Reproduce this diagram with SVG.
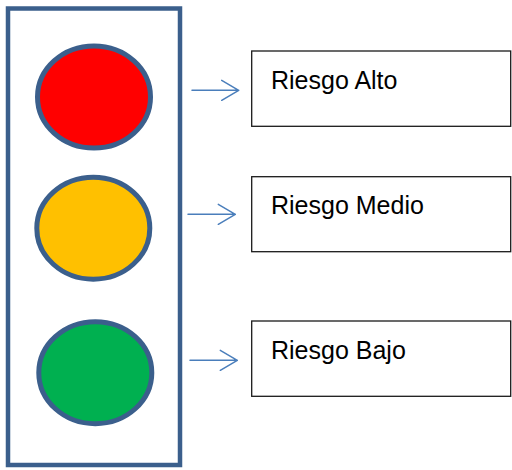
<svg xmlns="http://www.w3.org/2000/svg" width="512" height="470" viewBox="0 0 512 470">
  <defs>
    <style>
      .frame { fill: #ffffff; stroke: #3B5F8C; stroke-width: 4.5; }
      .lamp { stroke: #3B5F8C; stroke-width: 5; }
      .box { fill: #ffffff; stroke: #1a1a1a; stroke-width: 1.3; }
      .label { font-family: "Liberation Sans", Arial, sans-serif; font-size: 25px; fill: #000000; }
      .link { fill: none; stroke: #4A7EBB; stroke-width: 1.5; stroke-linecap: round; stroke-linejoin: round; }
    </style>
  </defs>
  <rect width="512" height="470" fill="#ffffff"/>

  <!-- traffic light housing -->
  <g id="semaforo">
    <rect class="frame" x="8" y="8.5" width="172" height="456.5"/>
  </g>
  <g id="luz-roja">
    <ellipse class="lamp" cx="94" cy="97" rx="56.5" ry="51" fill="#FF0000"/>
  </g>
  <g id="luz-ambar">
    <ellipse class="lamp" cx="93.3" cy="228.2" rx="56.5" ry="51" fill="#FFC000"/>
  </g>
  <g id="luz-verde">
    <ellipse class="lamp" cx="95.3" cy="372.7" rx="56.5" ry="51" fill="#00B050"/>
  </g>

  <!-- risk labels -->
  <g id="riesgo-alto">
    <rect class="box" x="251.7" y="51" width="259" height="75.3"/>
    <text class="label" x="271" y="89.3">Riesgo Alto</text>
  </g>
  <g id="riesgo-medio">
    <rect class="box" x="251.7" y="176.7" width="259" height="75"/>
    <text class="label" x="271" y="214.3">Riesgo Medio</text>
  </g>
  <g id="riesgo-bajo">
    <rect class="box" x="251.7" y="321" width="259" height="75.3"/>
    <text class="label" x="271" y="359.3">Riesgo Bajo</text>
  </g>

  <!-- arrows from lights to labels -->
  <g id="conectores">
    <path class="link" d="M192 90.3 H238.7 M221.7 80.3 L238.7 90.3 L221.7 100.3"/>
    <path class="link" d="M188 214.3 H235.3 M218.3 204.3 L235.3 214.3 L218.3 224.3"/>
    <path class="link" d="M190 360.3 H237.3 M220.3 350.3 L237.3 360.3 L220.3 370.3"/>
  </g>
</svg>
